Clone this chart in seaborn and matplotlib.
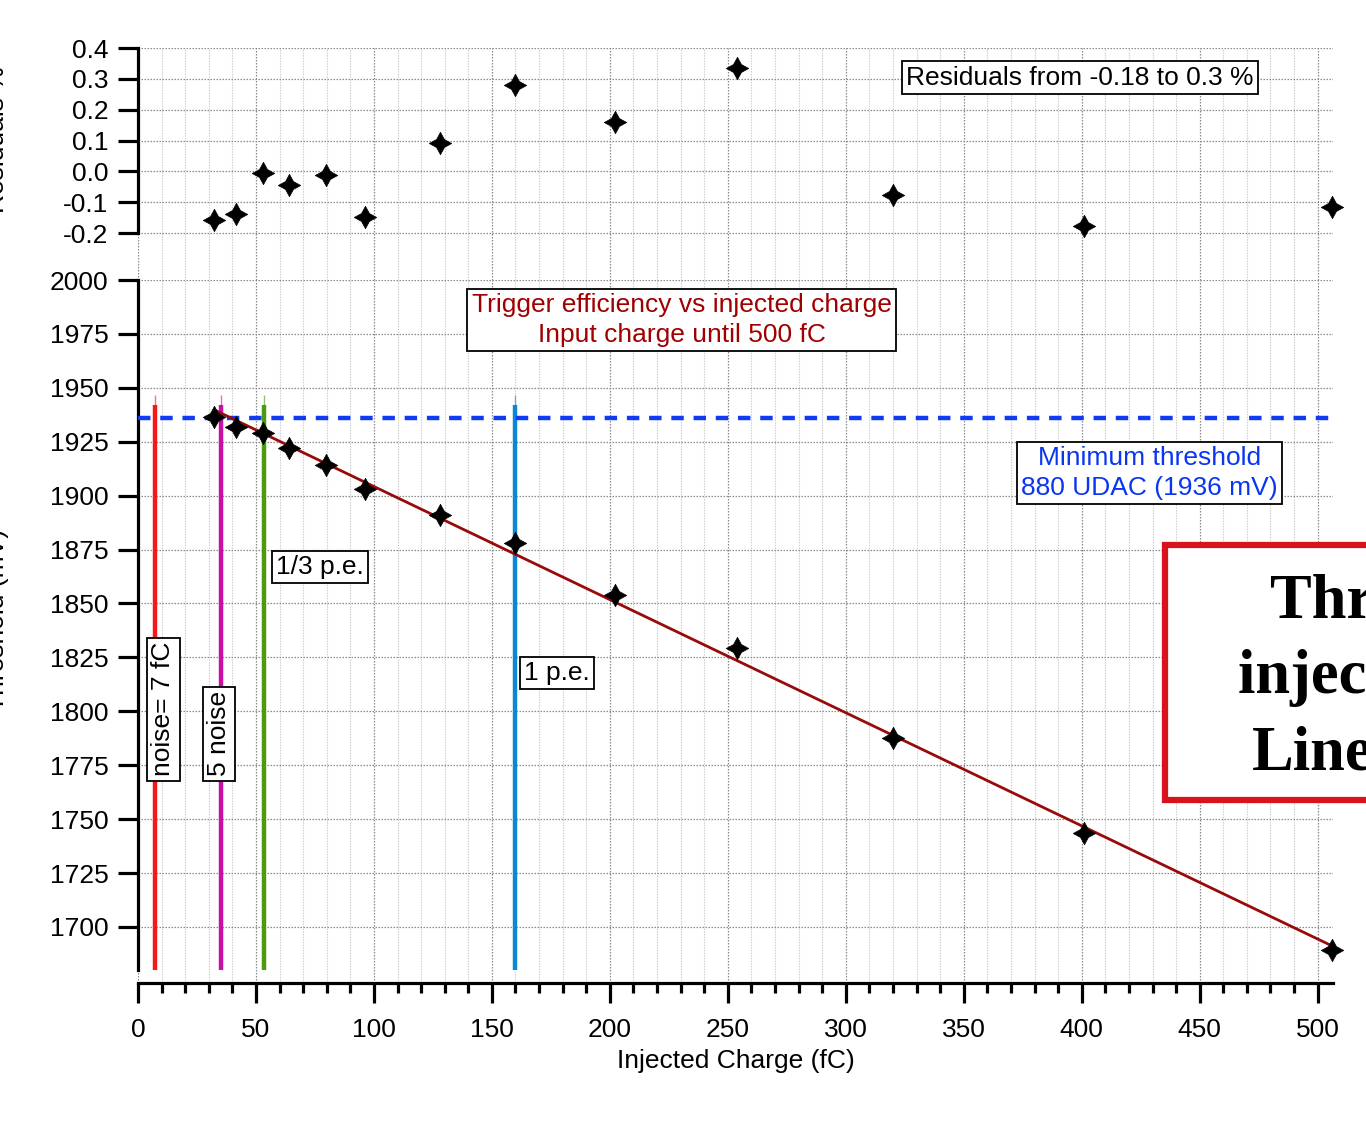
import numpy as np
import pandas as pd
import matplotlib
matplotlib.use("Agg")
import matplotlib.pyplot as plt
from matplotlib.patches import Rectangle
from matplotlib.ticker import MultipleLocator
import seaborn as sns

# data
charge_fc = [32.2, 41.5, 53.0, 64.0, 79.7, 96.2, 128.0, 160.0, 202.0, 254.0, 320.0, 401.0, 506.0]
threshold_mv = [1936.5, 1931.9, 1929.0, 1922.0, 1914.0, 1903.0, 1891.0, 1878.0, 1854.0,
                1829.4, 1787.7, 1743.6, 1689.4]
residuals_pct = [-0.158, -0.138, -0.005, -0.044, -0.012, -0.148, 0.092, 0.280, 0.160,
                 0.335, -0.077, -0.177, -0.116]

fit_slope = -0.5246
fit_intercept = 1956.7
fit_range = [32.6, 506.5]

min_threshold_mv = 1936
marker_lines_fc = [7, 35, 53.4, 160]
marker_line_colors = ["#f41818", "#c810a8", "#4c9a10", "#0a88d6"]
marker_line_top = 1942
marker_line_tip = 1946.5
marker_line_bottom = 1680

X_MAX = 506.5
FONT = "Liberation Sans"
FS = 19

sns.set_theme(style="white")
plt.rcParams["font.family"] = [FONT, "DejaVu Sans"]
plt.rcParams["text.color"] = "black"
plt.rcParams["axes.labelcolor"] = "black"
plt.rcParams["xtick.color"] = "black"
plt.rcParams["ytick.color"] = "black"

fig = plt.figure(figsize=(13.66, 11.25), dpi=100)
W, H = 1366, 1125


def px_axes(x0, y0, x1, y1):
    return fig.add_axes([x0 / W, 1 - y1 / H, (x1 - x0) / W, (y1 - y0) / H])


ax_res = px_axes(138, 48, 1333, 280)
ax = px_axes(138, 280, 1333, 983)

star = (4, 1, 0)


def style_grid(a):
    a.xaxis.set_major_locator(MultipleLocator(50))
    a.xaxis.set_minor_locator(MultipleLocator(10))
    a.grid(which="major", color="#8a8a8a", linestyle=(0, (1.2, 1.2)), linewidth=0.9)
    a.grid(which="minor", axis="x", color="#c8c8c8", linestyle=(0, (1.2, 1.2)), linewidth=0.8)
    a.set_axisbelow(True)
    for s in ["top", "right"]:
        a.spines[s].set_visible(False)
    a.spines["left"].set_color("black")
    a.spines["left"].set_linewidth(2.3)
    a.tick_params(axis="y", which="major", direction="out", length=14.4, width=2.3,
                  labelsize=FS, pad=7, color="black", labelcolor="black", left=True)


# residuals panel
res_df = pd.DataFrame({"charge": charge_fc, "res": residuals_pct})
sns.scatterplot(data=res_df, x="charge", y="res", ax=ax_res, marker=star, s=260,
                color="black", edgecolor="black", linewidth=0.5, zorder=5, clip_on=False)
ax_res.set_xlim(0, X_MAX)
ax_res.set_ylim(-0.352, 0.4)
style_grid(ax_res)
ax_res.spines["bottom"].set_visible(False)
ax_res.spines["left"].set_bounds(-0.2, 0.4)
ax_res.set_yticks(np.arange(-0.2, 0.41, 0.1))
ax_res.set_yticklabels([f"{v:.1f}" for v in np.arange(-0.2, 0.41, 0.1)])
ax_res.tick_params(axis="x", which="both", bottom=False, labelbottom=False)
ax_res.set_xlabel("")
ax_res.set_ylabel("")
ax_res.text(399.2, 0.304, "Residuals from -0.18 to 0.3 %", fontsize=FS, ha="center",
            va="center", color="black",
            bbox=dict(boxstyle="square,pad=0.16", fc="white", ec="black", lw=1.3))

# main panel
ax.set_xlim(0, X_MAX)
ax.set_ylim(1674, 2000)
style_grid(ax)
ax.spines["left"].set_bounds(marker_line_bottom, 2000)
ax.spines["bottom"].set_color("black")
ax.spines["bottom"].set_linewidth(2.3)
ax.set_yticks(np.arange(1700, 2001, 25))
ax.tick_params(axis="x", which="major", direction="out", length=14.4, width=2.3,
               labelsize=FS, pad=10.5, color="black", labelcolor="black", bottom=True)
ax.tick_params(axis="x", which="minor", direction="out", length=7.2, width=2.3,
               color="black", bottom=True)

for xc, col in zip(marker_lines_fc, marker_line_colors):
    ax.vlines(xc, marker_line_bottom, marker_line_top, colors=col, linewidth=3.2, zorder=3)
    ax.vlines(xc, marker_line_top, marker_line_tip, colors=col, linewidth=1.0, alpha=0.6, zorder=3)

ax.axhline(min_threshold_mv, color="#0f3cf2", linewidth=3.2, linestyle=(0, (2.8, 2.2)), zorder=4)

fit_df = pd.DataFrame({"charge": fit_range,
                       "fit": [fit_intercept + fit_slope * x for x in fit_range]})
sns.lineplot(data=fit_df, x="charge", y="fit", ax=ax, color="#990a0a", linewidth=2.0, zorder=5)

main_df = pd.DataFrame({"charge": charge_fc, "thr": threshold_mv})
sns.scatterplot(data=main_df, x="charge", y="thr", ax=ax, marker=star, s=260,
                color="black", edgecolor="black", linewidth=0.5, zorder=6, clip_on=False)

ax.set_xlabel("Injected Charge (fC)", fontsize=FS, labelpad=5, color="black")
ax.set_ylabel("")

box = dict(boxstyle="square,pad=0.16", fc="white", ec="black", lw=1.3)
ax.text(230.4, 1981.5, "Trigger efficiency vs injected charge\nInput charge until 500 fC",
        fontsize=FS, color="#a00000", ha="center", va="center", linespacing=1.3, bbox=box,
        zorder=7)
ax.text(428.6, 1910.5, "Minimum threshold\n880 UDAC (1936 mV)", fontsize=FS,
        color="#0a36f0", ha="center", va="center", linespacing=1.3, bbox=box, zorder=7)
ax.text(77.1, 1866.9, "1/3 p.e.", fontsize=FS, ha="center", va="center", bbox=box, zorder=7)
ax.text(177.7, 1817.8, "1 p.e.", fontsize=FS, ha="center", va="center", bbox=box, zorder=7)
ax.text(10.8, 1801, "noise= 7 fC", fontsize=FS, rotation=90, ha="center", va="center",
        bbox=box, zorder=7)
ax.text(34.3, 1789.5, "5 noise", fontsize=FS, rotation=90, ha="center", va="center",
        bbox=box, zorder=7)

# cut-off y labels at the left edge, as in the reference
fig.text(-0.002, 1 - 140 / H, "Residuals %", rotation=90, fontsize=FS, ha="center", va="center")
fig.text(-0.002, 1 - 620 / H, "Threshold (mV)", rotation=90, fontsize=FS, ha="center", va="center")

# slide overlay box on the right, cut by the figure edge
fig.patches.append(Rectangle((1165 / W, 1 - 800 / H), 300 / W, 255 / H,
                             transform=fig.transFigure, fc="white", ec="#d7141e",
                             lw=4.5, zorder=10))
for txt, xp, yp in [("Threshold vs", 1270, 618), ("injected charge", 1238, 693),
                    ("Linearity", 1252, 770)]:
    fig.text(xp / W, 1 - yp / H, txt, fontsize=45, fontweight="bold",
             family="Liberation Serif", ha="left", va="baseline", zorder=11)

fig.savefig("out.png", dpi=100)
